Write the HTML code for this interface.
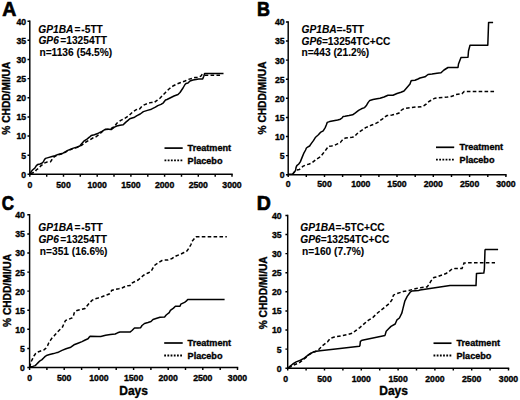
<!DOCTYPE html>
<html><head><meta charset="utf-8"><style>
html,body{margin:0;padding:0;background:#fff;width:520px;height:400px;overflow:hidden}
svg{display:block}
text{font-family:"Liberation Sans", sans-serif;fill:#000;stroke:#000;stroke-width:0.35px}
</style></head><body>
<svg width="520" height="400" viewBox="0 0 520 400">
<rect width="520" height="400" fill="#fff"/>
<g id="pA">
<text transform="translate(2.2,15.8) scale(1.0,1)" font-size="19.5" font-weight="bold" style="stroke-width:0.7px">A</text>
<path d="M29.8,21.2 V174.3 H232.0" stroke="#000" stroke-width="1.45" fill="none" stroke-linecap="square"/>
<path d="M27.5,174.3H29.8M27.5,155.2H29.8M27.5,136.0H29.8M27.5,116.9H29.8M27.5,97.8H29.8M27.5,78.6H29.8M27.5,59.5H29.8M27.5,40.3H29.8M27.5,21.2H29.8M29.8,174.3V176.7M46.7,174.3V176.7M63.5,174.3V176.7M80.3,174.3V176.7M97.2,174.3V176.7M114.0,174.3V176.7M130.9,174.3V176.7M147.8,174.3V176.7M164.6,174.3V176.7M181.5,174.3V176.7M198.3,174.3V176.7M215.2,174.3V176.7M232.0,174.3V176.7" stroke="#000" stroke-width="1.45" fill="none"/>
<text x="26.2" y="177.7" font-size="8.7" font-weight="bold" text-anchor="end">0</text>
<text x="26.2" y="158.6" font-size="8.7" font-weight="bold" text-anchor="end">5</text>
<text x="26.2" y="139.4" font-size="8.7" font-weight="bold" text-anchor="end">10</text>
<text x="26.2" y="120.3" font-size="8.7" font-weight="bold" text-anchor="end">15</text>
<text x="26.2" y="101.2" font-size="8.7" font-weight="bold" text-anchor="end">20</text>
<text x="26.2" y="82.0" font-size="8.7" font-weight="bold" text-anchor="end">25</text>
<text x="26.2" y="62.9" font-size="8.7" font-weight="bold" text-anchor="end">30</text>
<text x="26.2" y="43.7" font-size="8.7" font-weight="bold" text-anchor="end">35</text>
<text x="26.2" y="24.6" font-size="8.7" font-weight="bold" text-anchor="end">40</text>
<text x="29.8" y="187.9" font-size="8.7" font-weight="bold" text-anchor="middle">0</text>
<text x="63.5" y="187.9" font-size="8.7" font-weight="bold" text-anchor="middle">500</text>
<text x="97.2" y="187.9" font-size="8.7" font-weight="bold" text-anchor="middle">1000</text>
<text x="130.9" y="187.9" font-size="8.7" font-weight="bold" text-anchor="middle">1500</text>
<text x="164.6" y="187.9" font-size="8.7" font-weight="bold" text-anchor="middle">2000</text>
<text x="198.3" y="187.9" font-size="8.7" font-weight="bold" text-anchor="middle">2500</text>
<text x="232.0" y="187.9" font-size="8.7" font-weight="bold" text-anchor="middle">3000</text>
<text transform="translate(10.2,98.2) rotate(-90)" x="0" y="0" font-size="10.2" font-weight="bold" text-anchor="middle">% CHDD/MI/UA</text>
<text transform="translate(38.3,32.6) scale(1.02,1)" font-size="10.0" font-weight="bold" style="stroke-width:0.1px"><tspan font-style="italic">GP1BA</tspan><tspan dx="1.1">=</tspan><tspan dx="0.8">-5TT</tspan></text>
<text transform="translate(38.4,44.2) scale(1.02,1)" font-size="10.0" font-weight="bold" style="stroke-width:0.1px"><tspan font-style="italic">GP6</tspan><tspan dx="1.5">=13254TT</tspan></text>
<text transform="translate(39.4,56.0) scale(1.02,1)" font-size="10.0" font-weight="bold" style="stroke-width:0.1px">n=1136 (54.5%)</text>
<path d="M164.5,148.1H182.7" stroke="#000" stroke-width="1.7"/>
<path d="M164.5,160.4h17.8" stroke="#000" stroke-width="1.8" stroke-dasharray="1.8,1.4"/>
<text x="187.6" y="151.2" font-size="9.1" font-weight="bold">Treatment</text>
<text x="187.6" y="163.9" font-size="9.1" font-weight="bold">Placebo</text>
<polyline points="29.8,174.2 30.0,173.4 32.5,170.0 34.8,168.1 36.2,165.9 37.8,164.4 40.0,164.0 41.9,163.2 43.4,161.8 44.5,159.5 45.6,158.4 48.2,157.6 52.0,156.5 55.0,155.8 58.2,154.4 63.0,153.2 67.8,150.4 72.6,148.4 76.6,147.2 79.8,146.0 81.4,144.0 83.8,141.2 87.0,139.2 89.4,137.2 91.2,135.6 94.4,134.8 98.4,133.2 102.4,131.2 105.6,129.2 108.8,129.2 111.2,129.6 114.4,127.2 116.8,126.0 120.0,125.2 123.2,124.8 125.6,122.4 128.0,120.4 129.8,118.8 134.6,117.2 137.0,115.6 140.2,114.0 143.4,111.6 147.4,110.4 151.4,109.2 155.4,107.2 157.8,105.6 161.0,104.4 163.4,102.8 165.5,100.0 167.0,99.5 170.0,98.0 174.0,96.0 178.0,94.5 180.0,92.5 183.0,88.0 185.0,84.5 186.0,83.5 188.0,83.0 190.0,81.0 193.0,80.0 196.0,79.5 198.8,79.1 202.7,78.9 203.8,76.2 204.6,73.5 223.5,73.5" fill="none" stroke="#000" stroke-width="1.5" stroke-linejoin="round"/>
<polyline points="30.6,173.8 33.0,172.8 35.1,171.9 36.2,170.0 39.2,167.8 40.8,165.9 43.0,164.4 44.1,163.2 47.1,162.1 50.5,161.8 52.0,159.5 52.8,158.0 55.0,156.3 58.2,154.8 63.0,153.6 67.8,150.8 72.6,148.8 76.6,147.6 79.8,146.4 82.2,144.8 86.0,142.0 89.6,140.0 92.8,138.0 96.0,136.8 99.2,134.4 102.4,131.5 105.6,129.6 108.8,129.2 111.2,128.5 114.4,126.5 116.8,123.2 120.8,120.4 124.8,118.4 129.0,115.6 132.2,112.4 136.2,109.6 139.4,109.2 141.8,106.4 144.2,104.8 147.4,103.6 151.4,102.4 153.8,102.8 157.0,100.4 160.2,98.0 163.0,95.0 166.0,92.0 169.0,89.0 173.0,86.0 177.0,84.0 181.0,82.5 185.0,81.0 188.0,79.5 192.0,78.5 195.0,77.5 198.0,77.5 200.8,76.2 201.9,74.7 203.0,75.3 205.4,75.3 221.0,75.3" fill="none" stroke="#000" stroke-width="1.5" stroke-dasharray="3.6,2.3"/>
</g>
<g id="pB">
<text transform="translate(257.0,15.8) scale(0.92,1)" font-size="19.5" font-weight="bold" style="stroke-width:0.7px">B</text>
<path d="M288.2,21.9 V174.7 H505.9" stroke="#000" stroke-width="1.45" fill="none" stroke-linecap="square"/>
<path d="M285.9,174.7H288.2M285.9,155.6H288.2M285.9,136.5H288.2M285.9,117.4H288.2M285.9,98.3H288.2M285.9,79.2H288.2M285.9,60.1H288.2M285.9,41.0H288.2M285.9,21.9H288.2M288.2,174.7V177.1M306.3,174.7V177.1M324.5,174.7V177.1M342.6,174.7V177.1M360.8,174.7V177.1M378.9,174.7V177.1M397.0,174.7V177.1M415.2,174.7V177.1M433.3,174.7V177.1M451.5,174.7V177.1M469.6,174.7V177.1M487.8,174.7V177.1M505.9,174.7V177.1" stroke="#000" stroke-width="1.45" fill="none"/>
<text x="284.6" y="178.1" font-size="8.7" font-weight="bold" text-anchor="end">0</text>
<text x="284.6" y="159.0" font-size="8.7" font-weight="bold" text-anchor="end">5</text>
<text x="284.6" y="139.9" font-size="8.7" font-weight="bold" text-anchor="end">10</text>
<text x="284.6" y="120.8" font-size="8.7" font-weight="bold" text-anchor="end">15</text>
<text x="284.6" y="101.7" font-size="8.7" font-weight="bold" text-anchor="end">20</text>
<text x="284.6" y="82.6" font-size="8.7" font-weight="bold" text-anchor="end">25</text>
<text x="284.6" y="63.5" font-size="8.7" font-weight="bold" text-anchor="end">30</text>
<text x="284.6" y="44.4" font-size="8.7" font-weight="bold" text-anchor="end">35</text>
<text x="284.6" y="25.3" font-size="8.7" font-weight="bold" text-anchor="end">40</text>
<text x="288.2" y="187.1" font-size="8.7" font-weight="bold" text-anchor="middle">0</text>
<text x="324.5" y="187.1" font-size="8.7" font-weight="bold" text-anchor="middle">500</text>
<text x="360.8" y="187.1" font-size="8.7" font-weight="bold" text-anchor="middle">1000</text>
<text x="397.0" y="187.1" font-size="8.7" font-weight="bold" text-anchor="middle">1500</text>
<text x="433.3" y="187.1" font-size="8.7" font-weight="bold" text-anchor="middle">2000</text>
<text x="469.6" y="187.1" font-size="8.7" font-weight="bold" text-anchor="middle">2500</text>
<text x="505.9" y="187.1" font-size="8.7" font-weight="bold" text-anchor="middle">3000</text>
<text transform="translate(265.9,98.0) rotate(-90)" x="0" y="0" font-size="10.2" font-weight="bold" text-anchor="middle">% CHDD/MI/UA</text>
<text transform="translate(301.5,33.0) scale(1.02,1)" font-size="10.0" font-weight="bold" style="stroke-width:0.1px"><tspan font-style="italic">GP1BA</tspan>=-5TT</text>
<text transform="translate(301.5,44.6) scale(1.02,1)" font-size="10.0" font-weight="bold" style="stroke-width:0.1px"><tspan font-style="italic">GP6</tspan>=13254TC+CC</text>
<text transform="translate(301.4,56.2) scale(1.02,1)" font-size="10.0" font-weight="bold" style="stroke-width:0.1px">n=443 (21.2%)</text>
<path d="M436.0,147.3H454.2" stroke="#000" stroke-width="1.7"/>
<path d="M436.0,159.6h17.8" stroke="#000" stroke-width="1.8" stroke-dasharray="1.8,1.4"/>
<text x="459.6" y="150.4" font-size="9.1" font-weight="bold">Treatment</text>
<text x="459.6" y="163.0" font-size="9.1" font-weight="bold">Placebo</text>
<polyline points="288.4,174.2 292.8,173.9 294.0,172.4 295.6,170.4 296.0,167.6 296.8,165.6 298.8,164.0 300.4,161.6 302.0,157.6 304.0,152.8 305.6,150.0 306.4,148.0 307.6,147.2 309.6,146.0 311.2,143.6 313.6,140.4 315.6,137.2 318.4,134.8 320.4,132.4 323.2,130.8 325.2,127.6 326.4,124.8 327.2,122.4 329.6,121.6 333.6,120.8 337.6,120.0 340.4,119.2 342.0,118.0 343.2,116.4 345.0,116.2 349.0,115.6 352.6,114.8 355.4,112.8 358.6,110.4 361.4,108.8 364.6,107.6 366.6,105.2 368.2,102.4 369.8,100.4 373.0,99.6 377.0,98.8 380.0,98.2 384.0,97.0 388.0,95.2 393.0,95.2 397.0,93.5 401.0,92.2 404.0,91.0 407.0,87.5 410.0,84.0 411.0,81.0 412.0,80.5 415.0,80.3 418.0,79.0 420.0,78.0 425.0,76.8 428.0,74.5 432.0,74.0 437.0,73.2 441.0,72.8 444.0,70.0 448.0,67.5 458.0,67.5 458.5,64.0 461.0,57.5 468.0,57.2 468.5,51.0 470.0,45.3 487.8,45.3 488.6,22.4 493.1,22.4" fill="none" stroke="#000" stroke-width="1.5" stroke-linejoin="round"/>
<polyline points="292.8,174.0 294.8,171.6 296.4,170.0 299.2,169.6 301.2,168.0 302.8,166.4 305.2,165.2 309.2,164.0 311.6,163.2 314.0,161.2 316.4,159.2 320.4,156.8 323.6,152.8 325.2,150.8 327.2,148.0 328.4,146.4 331.6,146.0 334.8,145.2 338.0,143.6 340.4,142.4 342.0,140.4 343.6,138.8 345.6,138.0 348.8,137.6 352.0,137.2 354.4,136.8 356.8,134.0 359.2,132.0 362.4,130.0 365.6,127.6 368.8,126.4 371.2,125.2 374.6,124.0 377.8,122.4 380.2,120.4 382.6,118.8 385.0,116.8 387.0,115.5 392.0,115.0 396.0,114.0 399.0,113.0 401.0,110.5 404.0,108.5 408.0,108.0 412.0,107.5 416.0,107.0 421.2,106.7 424.2,105.5 426.5,104.0 428.8,101.7 431.9,99.8 435.0,98.2 438.1,97.8 442.7,97.5 447.3,97.1 451.2,96.5 454.2,95.5 456.0,94.6 461.9,93.8 464.2,91.5 495.0,91.5" fill="none" stroke="#000" stroke-width="1.5" stroke-dasharray="3.6,2.3"/>
</g>
<g id="pC">
<text transform="translate(1.7,210.0) scale(0.87,1)" font-size="19.5" font-weight="bold" style="stroke-width:0.7px">C</text>
<path d="M29.6,214.8 V367.5 H237.5" stroke="#000" stroke-width="1.45" fill="none" stroke-linecap="square"/>
<path d="M27.3,367.5H29.6M27.3,348.4H29.6M27.3,329.3H29.6M27.3,310.2H29.6M27.3,291.1H29.6M27.3,272.1H29.6M27.3,253.0H29.6M27.3,233.9H29.6M27.3,214.8H29.6M29.6,367.5V369.9M46.9,367.5V369.9M64.2,367.5V369.9M81.6,367.5V369.9M98.9,367.5V369.9M116.2,367.5V369.9M133.6,367.5V369.9M150.9,367.5V369.9M168.2,367.5V369.9M185.5,367.5V369.9M202.8,367.5V369.9M220.2,367.5V369.9M237.5,367.5V369.9" stroke="#000" stroke-width="1.45" fill="none"/>
<text x="24.8" y="370.9" font-size="8.7" font-weight="bold" text-anchor="end">0</text>
<text x="24.8" y="351.8" font-size="8.7" font-weight="bold" text-anchor="end">5</text>
<text x="24.8" y="332.7" font-size="8.7" font-weight="bold" text-anchor="end">10</text>
<text x="24.8" y="313.6" font-size="8.7" font-weight="bold" text-anchor="end">15</text>
<text x="24.8" y="294.5" font-size="8.7" font-weight="bold" text-anchor="end">20</text>
<text x="24.8" y="275.5" font-size="8.7" font-weight="bold" text-anchor="end">25</text>
<text x="24.8" y="256.4" font-size="8.7" font-weight="bold" text-anchor="end">30</text>
<text x="24.8" y="237.3" font-size="8.7" font-weight="bold" text-anchor="end">35</text>
<text x="24.8" y="218.2" font-size="8.7" font-weight="bold" text-anchor="end">40</text>
<text x="29.6" y="380.5" font-size="8.7" font-weight="bold" text-anchor="middle">0</text>
<text x="64.2" y="380.5" font-size="8.7" font-weight="bold" text-anchor="middle">500</text>
<text x="98.9" y="380.5" font-size="8.7" font-weight="bold" text-anchor="middle">1000</text>
<text x="133.6" y="380.5" font-size="8.7" font-weight="bold" text-anchor="middle">1500</text>
<text x="168.2" y="380.5" font-size="8.7" font-weight="bold" text-anchor="middle">2000</text>
<text x="202.8" y="380.5" font-size="8.7" font-weight="bold" text-anchor="middle">2500</text>
<text x="237.5" y="380.5" font-size="8.7" font-weight="bold" text-anchor="middle">3000</text>
<text transform="translate(10.5,290.5) rotate(-90)" x="0" y="0" font-size="10.2" font-weight="bold" text-anchor="middle">% CHDD/MI/UA</text>
<text x="133.6" y="395.4" font-size="12" font-weight="bold" text-anchor="middle">Days</text>
<text transform="translate(38.3,231.0) scale(1.02,1)" font-size="10.0" font-weight="bold" style="stroke-width:0.1px"><tspan font-style="italic">GP1BA</tspan><tspan dx="1.1">=</tspan><tspan dx="0.8">-5TT</tspan></text>
<text transform="translate(38.4,242.9) scale(1.02,1)" font-size="10.0" font-weight="bold" style="stroke-width:0.1px"><tspan font-style="italic">GP6</tspan><tspan dx="1.5">=13254TT</tspan></text>
<text transform="translate(39.8,254.8) scale(1.02,1)" font-size="10.0" font-weight="bold" style="stroke-width:0.1px">n=351 (16.6%)</text>
<path d="M164.2,343.0H182.7" stroke="#000" stroke-width="1.7"/>
<path d="M164.2,355.5h17.8" stroke="#000" stroke-width="1.8" stroke-dasharray="1.8,1.4"/>
<text x="187.6" y="346.1" font-size="9.1" font-weight="bold">Treatment</text>
<text x="187.6" y="358.8" font-size="9.1" font-weight="bold">Placebo</text>
<polyline points="29.6,366.8 32.8,366.4 35.2,365.6 36.8,364.0 38.4,362.4 40.0,360.8 42.0,359.6 43.6,358.0 45.2,356.4 47.2,355.2 49.6,354.6 53.6,353.6 56.8,352.6 58.0,352.4 62.0,350.4 66.0,348.8 70.8,347.2 74.0,344.8 78.0,343.2 82.0,341.6 85.2,340.0 88.0,338.8 89.2,337.2 90.4,336.2 98.0,336.4 100.8,336.4 105.6,335.2 110.4,334.4 115.2,334.0 117.6,332.8 120.0,332.0 130.0,332.1 132.0,330.5 134.5,328.0 138.0,328.0 140.5,327.8 142.0,325.5 144.5,323.5 148.0,322.5 151.0,321.5 153.0,319.5 156.0,318.5 160.0,317.2 164.6,316.9 166.2,315.0 169.2,312.7 170.4,310.4 173.5,308.1 175.4,306.3 180.0,306.3 180.8,304.2 184.6,302.3 186.2,301.2 187.7,299.4 224.6,299.4" fill="none" stroke="#000" stroke-width="1.5" stroke-linejoin="round"/>
<polyline points="29.8,367.2 30.8,362.4 32.4,359.2 34.0,356.0 35.6,353.6 37.6,352.0 40.0,351.2 42.4,350.4 44.4,349.6 46.0,348.0 47.6,345.6 48.8,342.8 50.4,340.4 52.0,338.0 54.0,336.0 57.0,332.5 60.0,329.5 62.5,327.0 64.0,323.5 65.5,320.5 68.0,319.5 72.0,318.0 73.5,315.5 74.5,312.0 77.0,310.5 81.0,309.5 85.0,308.5 87.0,306.0 89.2,303.2 92.0,300.4 94.8,298.8 98.0,298.0 102.0,296.8 106.0,295.2 109.2,294.0 110.8,292.4 111.6,290.4 114.8,289.6 118.8,288.8 122.0,288.0 126.0,286.0 130.0,285.5 131.0,283.5 134.0,282.0 138.0,280.0 141.0,277.5 144.0,275.0 148.0,273.0 151.0,271.5 153.0,268.0 155.0,265.0 158.0,263.0 162.0,260.5 164.0,260.0 168.0,260.0 172.0,258.5 176.0,256.0 180.0,254.5 184.0,252.5 187.0,251.0 189.0,248.0 191.0,244.5 192.0,241.5 194.0,239.0 196.0,236.7 226.8,236.7" fill="none" stroke="#000" stroke-width="1.5" stroke-dasharray="3.6,2.3"/>
</g>
<g id="pD">
<text transform="translate(256.8,210.0) scale(1.0,1)" font-size="19.5" font-weight="bold" style="stroke-width:0.7px">D</text>
<path d="M287.7,215.4 V368.2 H508.5" stroke="#000" stroke-width="1.45" fill="none" stroke-linecap="square"/>
<path d="M285.4,368.2H287.7M285.4,349.1H287.7M285.4,330.0H287.7M285.4,310.9H287.7M285.4,291.8H287.7M285.4,272.7H287.7M285.4,253.6H287.7M285.4,234.5H287.7M285.4,215.4H287.7M287.7,368.2V370.6M306.1,368.2V370.6M324.5,368.2V370.6M342.9,368.2V370.6M361.3,368.2V370.6M379.7,368.2V370.6M398.1,368.2V370.6M416.5,368.2V370.6M434.9,368.2V370.6M453.3,368.2V370.6M471.7,368.2V370.6M490.1,368.2V370.6M508.5,368.2V370.6" stroke="#000" stroke-width="1.45" fill="none"/>
<text x="281.7" y="371.6" font-size="8.7" font-weight="bold" text-anchor="end">0</text>
<text x="281.7" y="352.5" font-size="8.7" font-weight="bold" text-anchor="end">5</text>
<text x="281.7" y="333.4" font-size="8.7" font-weight="bold" text-anchor="end">10</text>
<text x="281.7" y="314.3" font-size="8.7" font-weight="bold" text-anchor="end">15</text>
<text x="281.7" y="295.2" font-size="8.7" font-weight="bold" text-anchor="end">20</text>
<text x="281.7" y="276.1" font-size="8.7" font-weight="bold" text-anchor="end">25</text>
<text x="281.7" y="257.0" font-size="8.7" font-weight="bold" text-anchor="end">30</text>
<text x="281.7" y="237.9" font-size="8.7" font-weight="bold" text-anchor="end">35</text>
<text x="281.7" y="218.8" font-size="8.7" font-weight="bold" text-anchor="end">40</text>
<text x="285.7" y="381.6" font-size="8.7" font-weight="bold" text-anchor="middle">0</text>
<text x="324.5" y="381.6" font-size="8.7" font-weight="bold" text-anchor="middle">500</text>
<text x="361.3" y="381.6" font-size="8.7" font-weight="bold" text-anchor="middle">1000</text>
<text x="398.1" y="381.6" font-size="8.7" font-weight="bold" text-anchor="middle">1500</text>
<text x="434.9" y="381.6" font-size="8.7" font-weight="bold" text-anchor="middle">2000</text>
<text x="471.7" y="381.6" font-size="8.7" font-weight="bold" text-anchor="middle">2500</text>
<text x="508.5" y="381.6" font-size="8.7" font-weight="bold" text-anchor="middle">3000</text>
<text transform="translate(267.0,292.8) rotate(-90)" x="0" y="0" font-size="10.2" font-weight="bold" text-anchor="middle">% CHDD/MI/UA</text>
<text x="393.6" y="395.4" font-size="12" font-weight="bold" text-anchor="middle">Days</text>
<text transform="translate(300.3,230.5) scale(1.02,1)" font-size="10.0" font-weight="bold" style="stroke-width:0.1px"><tspan font-style="italic">GP1BA</tspan>=-5TC+CC</text>
<text transform="translate(300.3,242.6) scale(1.02,1)" font-size="10.0" font-weight="bold" style="stroke-width:0.1px"><tspan font-style="italic">GP6</tspan>=13254TC+CC</text>
<text transform="translate(302.1,254.9) scale(1.02,1)" font-size="10.0" font-weight="bold" style="stroke-width:0.1px">n=160 (7.7%)</text>
<path d="M433.5,343.2H451.5" stroke="#000" stroke-width="1.7"/>
<path d="M433.5,355.5h17.8" stroke="#000" stroke-width="1.8" stroke-dasharray="1.8,1.4"/>
<text x="456.5" y="346.0" font-size="9.1" font-weight="bold">Treatment</text>
<text x="456.5" y="358.6" font-size="9.1" font-weight="bold">Placebo</text>
<polyline points="287.7,368.0 288.1,367.8 290.2,366.1 292.8,364.0 296.2,361.9 300.4,360.2 303.8,358.5 306.4,356.4 308.9,354.7 311.5,353.0 314.0,351.7 316.6,351.3 320.0,350.8 340.0,348.6 359.4,346.3 359.9,345.6 360.4,341.4 362.2,340.2 385.0,335.4 386.2,331.2 388.6,328.8 391.0,326.4 395.2,324.0 397.0,319.8 399.4,318.0 401.8,313.2 403.0,308.4 404.8,301.2 407.2,296.4 410.2,292.2 412.0,291.0 418.6,290.4 420.0,290.1 430.0,288.5 440.0,287.0 450.0,285.5 476.0,285.6 476.5,273.4 483.8,273.1 484.4,268.8 485.0,250.0 485.6,249.4 498.1,249.4" fill="none" stroke="#000" stroke-width="1.5" stroke-linejoin="round"/>
<polyline points="288.5,367.8 289.4,367.4 293.6,365.3 296.2,364.0 298.7,363.2 300.4,361.9 303.0,359.8 306.4,357.2 308.1,355.1 311.5,353.0 314.9,351.7 318.3,350.0 320.0,348.3 321.7,346.2 324.2,344.3 327.6,341.8 330.2,338.4 334.4,337.1 341.2,335.8 347.2,334.6 352.3,333.3 355.7,330.7 359.8,327.6 364.6,323.4 368.2,320.4 373.0,317.4 376.6,313.8 380.2,310.8 385.0,307.0 389.8,303.0 392.2,299.4 393.4,295.2 395.8,294.0 403.0,291.6 409.0,290.4 416.2,288.6 422.0,287.5 427.0,287.0 429.0,284.5 431.0,281.0 434.0,277.5 438.0,276.5 442.0,275.0 446.0,273.5 449.0,271.5 452.0,269.0 455.0,268.5 462.0,268.5 463.0,266.0 464.0,263.0 467.0,262.8 495.0,262.8" fill="none" stroke="#000" stroke-width="1.5" stroke-dasharray="3.6,2.3"/>
</g>
</svg>
</body></html>
